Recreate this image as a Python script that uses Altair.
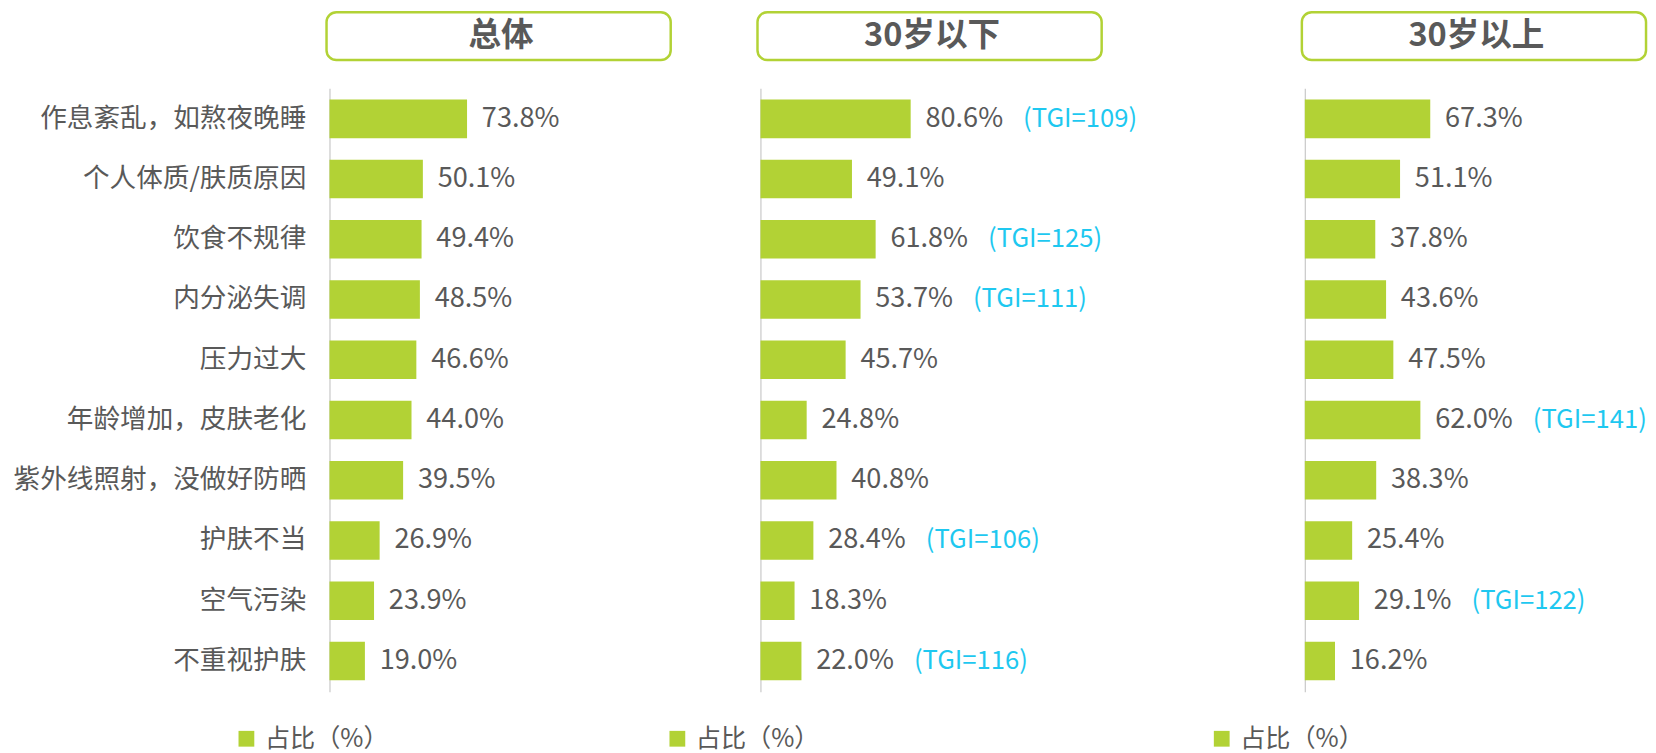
import altair as alt
import pandas as pd

categories = ["作息紊乱，如熬夜晚睡", "个人体质/肤质原因", "饮食不规律", "内分泌失调", "压力过大",
              "年龄增加，皮肤老化", "紫外线照射，没做好防晒", "护肤不当", "空气污染", "不重视护肤"]
panel_titles = ["总体", "30岁以下", "30岁以上"]
overall = [73.8, 50.1, 49.4, 48.5, 46.6, 44.0, 39.5, 26.9, 23.9, 19.0]
under30 = [80.6, 49.1, 61.8, 53.7, 45.7, 24.8, 40.8, 28.4, 18.3, 22.0]
over30 = [67.3, 51.1, 37.8, 43.6, 47.5, 62.0, 38.3, 25.4, 29.1, 16.2]
tgi_overall = [None] * 10
tgi_under30 = [109, None, 125, 111, None, None, None, 106, None, 116]
tgi_over30 = [None, None, None, None, None, 141, None, None, 122, None]
legend_label = "占比（%）"

GREEN = "#B2D235"
GREY = "#595959"
CYAN = "#1EC8F0"
FONT = "Noto Sans CJK SC"
PX_PER_PCT = 1.89


def panel(title, values, tgis, width, show_labels):
    df = pd.DataFrame({
        "category": categories,
        "value": values,
        "label": [f"{v:.1f}%" for v in values],
        "tgi": [f"(TGI={t})" if t is not None else "" for t in tgis],
        "series": [legend_label] * len(values),
    })
    domain_max = width / PX_PER_PCT
    xenc = alt.X("value:Q", scale=alt.Scale(domain=[0, domain_max], nice=False, zero=True), axis=None)
    if show_labels:
        yaxis = alt.Axis(title=None, labelFontSize=27, labelColor=GREY, labelFont=FONT, labelPadding=24,
                         ticks=False, domainColor="#C8C8C8", domainWidth=1.2, labelLimit=400)
    else:
        yaxis = alt.Axis(title=None, labels=False, ticks=False, domainColor="#C8C8C8", domainWidth=1.2)
    yenc = alt.Y("category:N", sort=categories,
                 scale=alt.Scale(paddingInner=0.36, paddingOuter=0.19), axis=yaxis)
    base = alt.Chart(df).encode(y=yenc, x=xenc)
    bars = base.mark_bar().encode(
        color=alt.Color("series:N", scale=alt.Scale(range=[GREEN]),
                        legend=alt.Legend(orient="none", legendX=-97, legendY=647, title=None,
                                          symbolType="square", symbolSize=256, symbolStrokeWidth=0,
                                          labelFontSize=25.5, labelColor=GREY, labelFont=FONT,
                                          labelOffset=6))
    )
    labels = base.mark_text(align="left", baseline="middle", dx=15, fontSize=27.5, color=GREY,
                            font=FONT).encode(text="label:N")
    tgi = base.mark_text(align="left", baseline="middle", dx=114, fontSize=26, color=CYAN,
                         font=FONT).encode(text="tgi:N")
    hdf = pd.DataFrame({"title": [title]})
    box = alt.Chart(hdf).mark_rect(fill="white", stroke=GREEN, strokeWidth=2.5, cornerRadius=10).encode(
        x=alt.value(-3), x2=alt.value(346), y=alt.value(-77), y2=alt.value(-28.5))
    htext = alt.Chart(hdf).mark_text(fontSize=33, fontWeight="bold", color=GREY, font=FONT,
                                     baseline="middle").encode(
        x=alt.value(174), y=alt.value(-53), text="title:N")
    return alt.layer(box, htext, bars, labels, tgi).properties(width=width, height=612)


p1 = panel(panel_titles[0], overall, tgi_overall, 417, True)
p2 = panel(panel_titles[1], under30, tgi_under30, 532, False)
p3 = panel(panel_titles[2], over30, tgi_over30, 344, False)

chart = alt.HConcatChart(hconcat=[p1, p2, p3], spacing=20, bounds="flush").resolve_scale(
    color="independent", x="independent"
).resolve_legend(color="independent").properties(
    padding={"left": 5, "top": -3, "right": 0, "bottom": 0}
).configure(font=FONT).configure_view(strokeWidth=0, stroke="transparent")

chart.save("out.html", embed_options={"renderer": "svg", "actions": False})
